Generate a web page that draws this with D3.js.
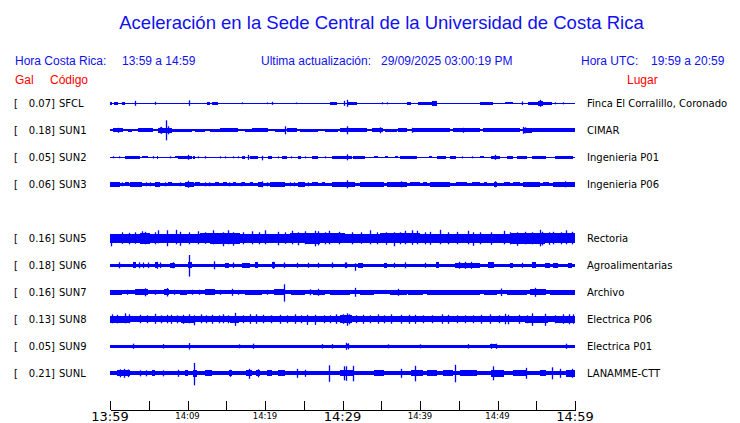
<!DOCTYPE html>
<html><head><meta charset="utf-8">
<script src="https://cdn.jsdelivr.net/npm/d3@7"></script>
<style>
html,body{margin:0;padding:0;background:#fff;}
svg{display:block;}
</style></head>
<body>
<script>
// ---------------- DATA ----------------
const title = "Aceleración en la Sede Central de la Universidad de Costa Rica";
const localLabel = "Hora Costa Rica:", localRange = "13:59 a 14:59";
const updateLabel = "Ultima actualización:", updateValue = "29/09/2025 03:00:19 PM";
const utcLabel = "Hora UTC:", utcRange = "19:59 a 20:59";

const codes  = ["SFCL","SUN1","SUN2","SUN3","SUN5","SUN6","SUN7","SUN8","SUN9","SUNL"];
const peaks  = [0.07,0.18,0.05,0.06,0.16,0.18,0.16,0.13,0.05,0.21];
const places = ["Finca El Corralillo, Coronado","CIMAR","Ingenieria P01","Ingenieria P06","Rectoria",
                "Agroalimentarias","Archivo","Electrica P06","Electrica P01","LANAMME-CTT"];
const rowSlots = [0,1,2,3,5,6,7,8,9,10];          // slot 4 (SUN4) is empty
const baseAmp  = [0.7,1.0,0.6,1.3,4.0,1.7,1.9,3.0,1.6,1.8]; // background noise level (trace units)

const tickMinutes = [0,5,10,15,20,25,30,35,40,45,50,55,60];
const labelMinutes = [0,10,20,30,40,50,60];
const labelTexts = ["13:59","14:09","14:19","14:29","14:39","14:49","14:59"];
const majorLabels = ["13:59","14:29","14:59"];

// bursts: [startMinute, endMinute, amplitude]; spikes: [minute, up, down]
const burstsSFCL = [[0,0.3,1.5],[0.5,1.0,1.5],[1.5,1.9,1.3],[12.5,12.9,1.5],[13.2,13.9,1.2],[28.4,29.3,1.5],[30.7,31.9,1.5],[38.3,38.8,1.8],[39.7,41.5,1.2],[41.5,42.2,2.2],[47.7,49.4,1.6],[51.0,52.0,1.1],[53.9,55.2,1.3],[55.2,55.9,2.5],[55.9,57.0,1.5]];
const spikesSFCL = [[3.2,2.5],[5.8,1.5],[10.2,3,2.5],[17.0,0.9],[20.3,0.9],[20.9,1.5],[24.0,0.8],[30.2,2.5],[30.6,3.5],[35.1,1],[35.7,1],[53.2,1.8],[55.5,3.5],[57.4,1],[58.5,1]];

const burstsSUN1 = [[0.4,1.7,2],[2.3,2.8,1.8],[3.6,5.5,2],[6.2,8.0,2.2],[8.0,10.6,1.8],[11,12.3,1.8],[12.9,14.2,1.8],[14.2,16.5,2],[17.4,18.3,1.3],[18.3,20.4,2],[21.3,22.6,1.8],[22.8,24.1,2],[24.5,26.8,1.8],[27.7,29.4,1.8],[29.7,33.2,2],[33.8,35.2,2],[35.5,37,1.8],[37.2,38.3,2],[39.1,43.9,2],[44.3,47.7,2],[48.1,52.9,2],[53.3,54.5,2.5],[54.5,60,2]];
const spikesSUN1 = [[1.0,2.5],[6.5,3],[6.6,3.5],[7.27,10,10],[7.5,4],[22.6,4],[30.6,4],[34.8,3],[39,2.5],[45.5,2.5],[53.3,3.5],[53.5,3]];

const burstsSUN2 = [[1.9,3.9,1.2],[4.1,4.9,1.1],[6.0,6.2,1.2],[8.4,9.0,1.1],[8.8,10.6,1.3],[10.7,11.0,1.2],[17.0,17.4,1.2],[18.1,19.1,1.4],[20.4,20.9,1.2],[22.2,22.8,1.2],[24.3,24.7,1.2],[26.0,26.9,1.3],[28.6,30.3,1.2],[30.3,31.2,1.5],[31.4,32.9,1.3],[34.0,34.6,1.1],[35.5,35.9,1],[36.8,37.2,1],[37.4,39.6,1.3],[41.1,41.5,1],[42.2,43.4,1.3],[43.9,44.7,1.2],[47.7,48.2,1.1],[49.2,50.3,1.5],[51.2,52.0,1.2],[52.5,53.8,1.3],[54.4,56.3,1.3],[57.4,59.8,1.3]];
const spikesSUN2 = [[0.4,1],[1.1,1],[5.6,1.2],[7.7,1],[10.1,2.5],[11.4,1],[12.3,1.2],[14.2,1],[14.8,1],[15.9,1],[16.5,1],[17.8,2.5],[19.6,1.5,3],[21.7,1],[23.4,1],[25.2,1],[27.7,1],[30.6,3],[45.4,1],[46.7,1],[49.7,2.5]];

const burstsSUN3 = [[0,1.3,2.2],[1.9,2.4,2],[2.6,4.1,2.2],[5.8,6.5,2.2],[7.5,8.0,2],[9.7,10.8,2.3],[11.0,11.6,2],[13.5,14.0,2],[14.6,15.1,2],[15.9,16.3,2],[17.0,17.4,2],[18.1,18.5,2],[19.1,19.8,2.3],[20.6,22.6,2.2],[24.3,25.2,2.2],[26.0,26.9,2],[27.3,27.7,2],[28.6,30.3,2.2],[29.7,31.6,2.3],[32.3,35.3,2.2],[35.7,38.3,2.2],[38.7,40.0,2],[40.4,40.9,2],[41.3,43.9,2.2],[44.7,46.0,2],[46.7,47.7,2],[48.2,48.6,2],[49.5,49.9,2.3],[50.8,51.6,2],[52.0,52.9,2],[53.3,55.5,2.2],[55.9,56.6,2],[57.2,60,2.5]];
const spikesSUN3 = [[1.6,2],[4.6,2],[5.2,2],[7.1,2],[9.0,2],[10.1,3.5],[12.3,2],[12.8,2],[15.4,2],[16.9,2],[19.6,3],[20.3,2],[23.2,2],[23.8,2],[25.6,2],[30.6,4],[37.5,3],[49.7,3],[58.7,3]];

const burstsSUN5 = [[0,3.9,4.6],[3.9,5.2,5.5],[5.2,11.6,4.6],[11.6,12.9,5.0],[12.9,16.8,5.4],[16.8,23.2,4.6],[23.2,25.2,5.0],[25.2,27.1,5.6],[27.1,30.3,5.0],[30.3,34.8,4.6],[34.8,40,5.0],[40,46.5,4.8],[46.5,51.6,4.6],[51.6,56.1,5.2],[56.1,60,5.0]];
const spikesSUN5 = [[0.1,4,8],[1.5,6,5.5],[2.4,5.5,6],[3.2,6,5.5],[4.1,7,5],[4.5,6.5,6],[5.8,6,6],[6.2,8,5],[7.3,8,8],[8.5,8.5,6],[9.0,6.5,7.5],[10.2,6,6],[11.4,7,6],[12.3,6,5.5],[13.3,8,6],[14.6,6,8],[15.2,8,6],[15.9,6,7.5],[17.2,6,6],[18.3,7,6],[19.2,6,6],[20.0,8,6],[21.7,6.5,7],[22.6,6,5.5],[23.5,7.5,6],[24.2,6,7],[25.2,7,6],[26.5,7.5,8],[26.9,7,7],[27.8,6,6],[28.2,7.5,6],[29.5,6.5,6],[31.2,6,6],[32.4,6,5.5],[33.5,8,6],[34.4,6,6],[35.6,6,6.5],[36.6,6,8],[37.4,6,6],[38.1,7.5,6],[39.0,8,6.5],[39.6,7.5,6],[40.6,6,6],[41.3,6.5,6.5],[42.6,8.5,6],[43.6,6,6],[44.8,6.5,6],[46.2,7.5,6],[46.9,6,7.5],[47.8,6,6],[49.2,6,6.5],[50.8,7.5,6],[51.6,6,6],[52.5,6,7.5],[53.6,6.5,6],[54.4,6,6],[55.5,8.5,8],[55.7,6.5,7],[56.6,6,6.5],[57.2,6.5,6],[58.2,6,6],[58.9,8,6],[59.6,6.5,6]];

const burstsSUN6 = [[3.0,3.4,2.8],[5.8,6.2,2.8],[7.7,8.4,2.6],[10.0,10.6,3],[14.8,15.3,2.6],[17.0,18.1,2.6],[18.7,19.1,2.8],[20.9,21.3,2.8],[32.0,32.7,2.6],[35.3,35.7,2.5],[42.0,42.4,2.8],[44.5,47.7,2.4],[48.8,49.5,2.8],[51.6,52.0,2.5],[54.4,55.0,2.8],[56.1,56.8,2.5],[57.2,57.8,2.6],[59.1,59.6,2.5]];
const spikesSUN6 = [[1.1,3],[3.7,3],[4.3,2.8],[4.9,2.8],[6.0,3.5],[6.5,2.8],[8.1,3],[10.2,10.3,11.3],[13.4,4],[15.9,2.8],[21.0,3.5],[22.4,2.8],[24.1,2.5],[25.6,2.5],[26.9,2.5],[28.6,2.8],[30.3,2.8],[30.5,2.8],[31.6,2,5.5],[36.6,2.5],[38.1,3],[40.6,2.5],[45.0,3.5],[45.8,3.5],[46.6,3.5],[53.1,2.5]];

const burstsSUN7 = [[0,1.5,2.7],[3.2,4.9,2.8],[7.0,7.6,3],[9.0,9.9,2.5],[12.3,13.5,2.8],[17.4,19.6,2.6],[21.1,22.6,2.8],[23.4,25.2,2.6],[26.2,27.7,2.7],[28.4,30.3,2.7],[29.7,31.0,2.6],[32.3,34.0,2.5],[36.1,38.3,2.6],[38.5,40.4,2.5],[40.9,47.7,2.6],[48.2,49.9,2.6],[51.2,53.8,2.6],[54.2,56.3,2.9],[56.8,60,2.6]];
const spikesSUN7 = [[2.2,2.5],[4.5,4],[5.8,2.5],[7.3,4.2],[8.3,2.5],[10.6,2.5],[11.5,2.5],[14.2,2.5],[15.7,3.5],[16.5,2.5],[20.3,2.5],[22.4,8,9.3],[25.8,3],[26.9,3.5],[31.6,4.5],[37.1,3.5],[50.5,3.8],[54.8,4.5]];

const burstsSUN8 = [[0,2.6,3.6],[9.2,10.8,3.5],[15.5,16.6,3.6],[29.7,31.2,3.8],[53.5,56.5,3.6],[57.5,60,3.6]];
const spikesSUN8 = [[0.3,5,4],[0.9,4.5,4],[1.9,6,4],[2.4,5,4],[3.9,4.5,4],[4.8,4,4],[5.8,5.5,4.5],[6.6,4,4],[7.4,4.5,4],[7.9,4.5,4.5],[8.6,4,4],[9.4,4.5,4.5],[10.2,5,4],[10.8,4,6],[11.8,5,4],[12.4,4,4],[13.2,4.5,4.5],[14.0,4,4],[14.6,5,4],[15.2,4,4],[16.1,6.5,6.5],[17.2,4,4],[18.0,5,4.5],[18.8,5,4.5],[19.8,4.5,4],[20.8,4,4],[21.9,4.5,4.5],[22.8,4,4],[23.9,5,4.5],[24.6,4,4],[25.4,4.5,5.5],[26.4,4.5,5.5],[27.6,4,4],[28.4,4,4],[29.2,5,4.5],[30.0,5,4.5],[30.6,6,6.5],[30.9,5,5],[31.8,4,4],[32.6,4.5,4.5],[33.6,4,4],[34.6,5,4.5],[35.4,4,4],[36.3,5,4.5],[37.6,4.5,4.5],[38.6,4.5,4.5],[39.4,4.5,4.5],[40.4,4,4],[41.6,4,4],[42.8,5,4.5],[43.6,4.5,4.5],[44.8,4,4],[45.8,4,4],[46.8,4,4],[47.9,4.5,4.5],[49.0,5,4.5],[50.2,4,4],[51.0,5.5,5],[51.4,4.5,5],[52.8,4.5,4.5],[53.8,4,4],[54.4,6,6.5],[56.1,5.5,6.5],[57.4,4,4],[58.4,5,4.5],[59.2,5,5],[59.8,5,4.5]];

const burstsSUN9 = [[30.4,30.9,2.2],[49.0,49.9,2.0]];
const spikesSUN9 = [[3.0,2.6],[6.9,2.2],[10.2,3.2],[16.6,2],[18.5,2.6],[27.3,2.2],[28.6,2.2],[30.5,3.5],[30.7,3],[35.9,2],[40.0,2],[46.2,2.2],[49.2,2.6],[49.8,2.6],[58.9,2.6]];

const burstsSUNL = [[0.9,2.6,3],[5.4,5.8,3],[9.7,10.1,2.8],[10.7,11.2,3.5],[12.3,13.1,2.8],[15.3,15.7,3],[17.6,18.3,3],[18.9,19.4,3],[20.2,20.9,2.8],[21.7,22.6,2.8],[29.7,31.4,3],[34.0,35.3,2.8],[38.9,40.4,3],[40.9,42.2,2.8],[43.0,44.3,2.8],[45.2,47.3,3],[49.2,50.8,3.5],[52.0,53.8,3.2],[55.5,56.3,3.2],[58.9,60,3.5]];
const spikesSUNL = [[1.3,4],[1.8,4.5],[2.3,3.8],[3.9,3],[4.7,3],[6.9,3],[8.8,3.5],[10.9,10.3,12],[15.5,3.5],[17.9,4.5,5.5],[19.1,4],[24.1,4.5],[25.2,3.5],[28.3,8,8.5],[30.2,7,7],[30.5,7,7.5],[31.4,7.5,8],[37.6,4.5],[39.4,7.5,8],[44.5,8.5,9],[49.4,7,7],[53.7,5.5],[57.0,6],[58.1,4.5],[59.6,4.5]];

const bursts = [burstsSFCL,burstsSUN1,burstsSUN2,burstsSUN3,burstsSUN5,burstsSUN6,burstsSUN7,burstsSUN8,burstsSUN9,burstsSUNL];
const spikes = [spikesSFCL,spikesSUN1,spikesSUN2,spikesSUN3,spikesSUN5,spikesSUN6,spikesSUN7,spikesSUN8,spikesSUN9,spikesSUNL];

// ---------------- CHART ----------------
const W = 740, H = 423;
const BLUE = "#0000ff", TBLUE = "#1010f0", RED = "#ff0000";
const svg = d3.select("body").append("svg").attr("width", W).attr("height", H);

svg.append("text").attr("x", 381.5).attr("y", 28.5).attr("text-anchor", "middle")
  .attr("font-family", "Liberation Sans, Arial, sans-serif").attr("font-size", 18.5)
  .attr("fill", TBLUE).text(title);

const hdr = svg.append("g").attr("font-family", "Liberation Sans, Arial, sans-serif")
  .attr("font-size", 12).attr("fill", TBLUE);
[[15, localLabel],[122, localRange],[261, updateLabel],[381, updateValue],[581, utcLabel],[651, utcRange]]
  .forEach(([x, t]) => hdr.append("text").attr("x", x).attr("y", 64.5).text(t));

const red = svg.append("g").attr("font-family", "Liberation Sans, Arial, sans-serif")
  .attr("font-size", 12).attr("fill", RED);
red.append("text").attr("x", 15).attr("y", 84.3).text("Gal");
red.append("text").attr("x", 50).attr("y", 84.3).text("Código");
red.append("text").attr("x", 627).attr("y", 84.3).text("Lugar");

const x = d3.scaleLinear().domain([0, 60]).range([110, 575]);
const row = d3.scaleLinear().domain([0, 10]).range([103.3, 373.3]);
const amp = d3.scaleLinear().domain([-13.5, 13.5]).range([13.5, -13.5]);

codes.forEach((code, i) => {
  const cy = row(rowSlots[i]);
  const g = svg.append("g").attr("transform", `translate(0,${cy})`);
  const lab = svg.append("g").attr("font-family", "DejaVu Sans, sans-serif").attr("font-size", 10).attr("fill", "#000");
  lab.append("text").attr("x", 14).attr("y", cy + 3.6).text("[");
  lab.append("text").attr("x", 55).attr("y", cy + 3.6).attr("text-anchor", "end").text(peaks[i].toFixed(2) + "]");
  lab.append("text").attr("x", 59).attr("y", cy + 3.6).text(code);
  lab.append("text").attr("x", 587).attr("y", cy + 3.6).text(places[i]);

  g.append("rect").attr("x", x(0)).attr("width", x(60) - x(0))
    .attr("y", amp(baseAmp[i])).attr("height", amp(-baseAmp[i]) - amp(baseAmp[i]))
    .attr("fill", BLUE).attr("shape-rendering", "crispEdges");
  g.selectAll("rect.b").data(bursts[i]).join("rect").attr("class", "b")
    .attr("x", d => x(d[0])).attr("width", d => Math.max(1, x(d[1]) - x(d[0])))
    .attr("y", d => amp(d[2])).attr("height", d => amp(-d[2]) - amp(d[2]))
    .attr("fill", BLUE).attr("shape-rendering", "crispEdges");
  g.selectAll("line.s").data(spikes[i]).join("line").attr("class", "s")
    .attr("x1", d => Math.round(x(d[0])) + 0.5).attr("x2", d => Math.round(x(d[0])) + 0.5)
    .attr("y1", d => amp(d[1])).attr("y2", d => amp(-(d.length > 2 ? d[2] : d[1])))
    .attr("stroke", BLUE).attr("stroke-width", 1.3);
});

const axisY = 409.5;
const axis = d3.axisTop(x).tickValues(tickMinutes).tickSize(9).tickSizeOuter(0).tickFormat("");
const ag = svg.append("g").attr("transform", `translate(0,${axisY})`).call(axis);
ag.select(".domain").attr("stroke", "#000").attr("shape-rendering", "crispEdges");
ag.selectAll(".tick line").attr("stroke", "#000").attr("shape-rendering", "crispEdges");

svg.append("g").selectAll("text").data(labelMinutes).join("text")
  .attr("x", d => x(d)).attr("y", (d, k) => majorLabels.includes(labelTexts[k]) ? 421 : 419)
  .attr("text-anchor", "middle").attr("font-family", "DejaVu Sans, sans-serif")
  .attr("font-size", (d, k) => majorLabels.includes(labelTexts[k]) ? 13 : 8.5)
  .attr("fill", "#000").text((d, k) => labelTexts[k]);
</script>
</body></html>
